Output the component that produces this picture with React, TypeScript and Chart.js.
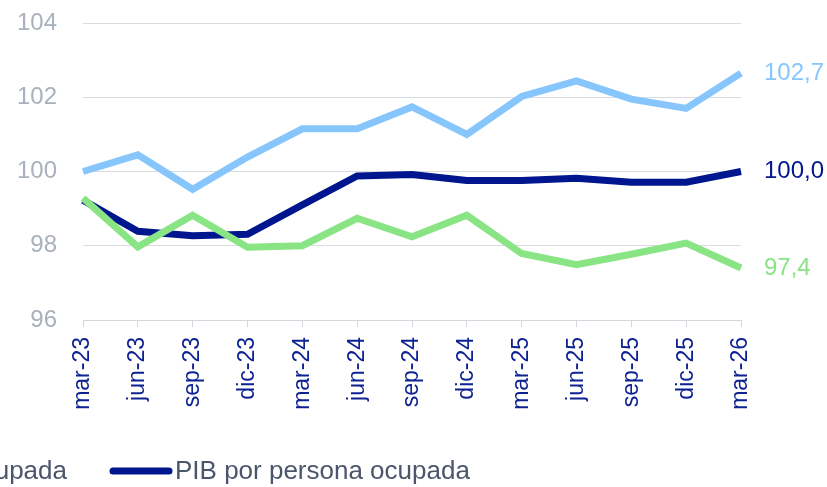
import React, { useEffect, useRef } from "react";
import { Chart, registerables } from "chart.js";

Chart.register(...registerables);

const categories = [
  "mar-23", "jun-23", "sep-23", "dic-23",
  "mar-24", "jun-24", "sep-24", "dic-24",
  "mar-25", "jun-25", "sep-25", "dic-25",
  "mar-26",
];

// PIB por hora trabajada (light blue)
const pibPorHora = [100.0, 100.45, 99.52, 100.39, 101.15, 101.15, 101.74, 101.0, 102.02, 102.44, 101.95, 101.7, 102.65];
// PIB por persona ocupada (navy)
const pibPorPersona = [99.23, 98.39, 98.27, 98.31, 99.1, 99.88, 99.92, 99.76, 99.76, 99.82, 99.71, 99.71, 100.0];
// Horas trabajadas por persona ocupada (green)
const horasPorPersona = [99.28, 97.97, 98.82, 97.96, 98.0, 98.74, 98.24, 98.82, 97.79, 97.49, 97.77, 98.07, 97.4];

const seriesNames = ["PIB por hora trabajada", "Horas trabajadas por persona ocupada", "PIB por persona ocupada"];
const endLabels = ["102,7", "97,4", "100,0"];
const yMin = 96;
const yMax = 104;
const yStep = 2;

const LIGHT = "#86c6fd";
const NAVY = "#00168e";
const GREEN = "#89e483";
const FONT = "'Liberation Sans', Arial, Helvetica, sans-serif";

const endLabelPlugin = {
  id: "endLabels",
  afterDatasetsDraw(chart: any) {
    const ctx = chart.ctx;
    ctx.save();
    ctx.font = `24px ${FONT}`;
    ctx.textAlign = "left";
    ctx.textBaseline = "middle";
    chart.data.datasets.forEach((ds: any, i: number) => {
      const meta = chart.getDatasetMeta(i);
      const pt = meta.data[meta.data.length - 1];
      if (!pt) return;
      ctx.fillStyle = ds.borderColor;
      ctx.fillText(ds.endLabel, pt.x + 23, pt.y);
    });
    ctx.restore();
  },
};

const legendPlugin = {
  id: "customLegend",
  afterDraw(chart: any) {
    const ctx = chart.ctx;
    const y = 472;
    ctx.save();
    ctx.font = `26px ${FONT}`;
    ctx.textBaseline = "middle";
    ctx.lineWidth = 7;
    ctx.lineCap = "round";
    const entries = [
      { name: seriesNames[0], color: LIGHT },
      { name: seriesNames[1], color: GREEN },
      { name: seriesNames[2], color: NAVY },
    ];
    const lineStart = 113;
    const lineLen = 56;
    const textGap = 6;
    const entryGap = 46;
    const positions: { x: number; color: string; name: string }[] = [];
    positions[2] = { x: lineStart, color: entries[2].color, name: entries[2].name };
    let cursor = lineStart - entryGap;
    for (let i = 1; i >= 0; i--) {
      const w = ctx.measureText(entries[i].name).width;
      const start = cursor - w - textGap - lineLen;
      positions[i] = { x: start, color: entries[i].color, name: entries[i].name };
      cursor = start - entryGap;
    }
    positions.forEach((p) => {
      ctx.strokeStyle = p.color;
      ctx.beginPath();
      ctx.moveTo(p.x, y - 1);
      ctx.lineTo(p.x + lineLen, y - 1);
      ctx.stroke();
      ctx.fillStyle = "#4b556b";
      ctx.textAlign = "left";
      ctx.fillText(p.name, p.x + lineLen + textGap, y);
    });
    ctx.restore();
  },
};

export default function App() {
  const ref = useRef<HTMLCanvasElement | null>(null);

  useEffect(() => {
    if (!ref.current) return;
    const chart = new Chart(ref.current, {
      type: "line",
      data: {
        labels: categories,
        datasets: [
          {
            label: seriesNames[1],
            data: horasPorPersona,
            borderColor: GREEN,
            backgroundColor: GREEN,
            borderWidth: 7,
            pointRadius: 0,
            tension: 0,
            endLabel: endLabels[1],
          } as any,
          {
            label: seriesNames[2],
            data: pibPorPersona,
            borderColor: NAVY,
            backgroundColor: NAVY,
            borderWidth: 7,
            pointRadius: 0,
            tension: 0,
            endLabel: endLabels[2],
          } as any,
          {
            label: seriesNames[0],
            data: pibPorHora,
            borderColor: LIGHT,
            backgroundColor: LIGHT,
            borderWidth: 7,
            pointRadius: 0,
            tension: 0,
            endLabel: endLabels[0],
          } as any,
        ],
      },
      options: {
        responsive: false,
        animation: false,
        layout: { padding: { left: 0, right: 86, top: 23, bottom: 0 } },
        plugins: {
          legend: { display: false },
          tooltip: { enabled: false },
        },
        scales: {
          x: {
            offset: false,
            grid: {
              drawOnChartArea: false,
              drawTicks: true,
              tickLength: 7,
              color: "#d3d8df",
            },
            border: { display: true, color: "#d3d8df", width: 1 },
            ticks: {
              minRotation: 90,
              maxRotation: 90,
              autoSkip: false,
              padding: 10,
              color: "#0e2291",
              font: { size: 23, family: FONT },
            },
            afterFit(scale: any) {
              scale.height = 167;
            },
          },
          y: {
            min: yMin,
            max: yMax,
            grid: { drawTicks: false, color: "#d9dde3", lineWidth: 1 },
            border: { display: false },
            ticks: {
              stepSize: yStep,
              padding: 26,
              color: "#a9b1bc",
              font: { size: 24, family: FONT },
            },
            afterFit(scale: any) {
              scale.width = 83;
              scale.paddingTop = 0;
              scale.paddingBottom = 0;
            },
          },
        },
      },
      plugins: [endLabelPlugin, legendPlugin],
    });
    return () => chart.destroy();
  }, []);

  return (
    <div style={{ position: "fixed", left: 0, top: 0, width: 827, height: 487, background: "#fff" }}>
      <canvas ref={ref} width={827} height={487} style={{ display: "block" }} />
    </div>
  );
}
